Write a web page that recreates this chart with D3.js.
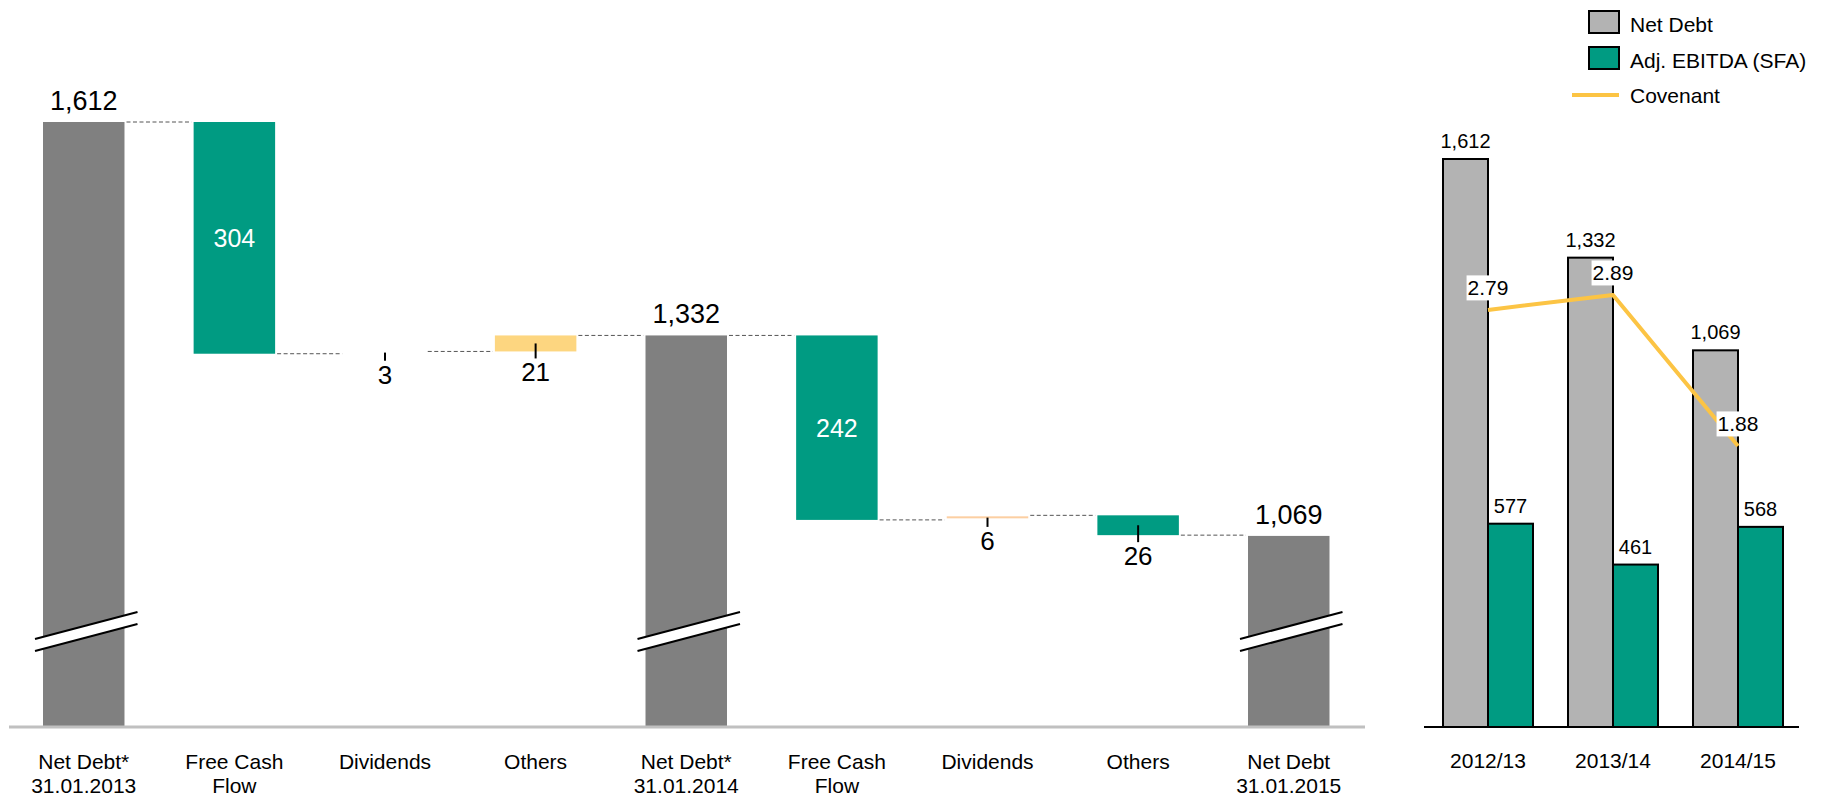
<!DOCTYPE html>
<html>
<head>
<meta charset="utf-8">
<script src="https://cdn.jsdelivr.net/npm/d3@7"></script>
<style>
  html, body { margin: 0; padding: 0; background: #fff; }
  svg { display: block; font-family: "Liberation Sans", Arial, Helvetica, sans-serif; }
</style>
</head>
<body>
<svg id="chart" width="1825" height="798"></svg>
<script>
// ---------- DATA ----------
const wfLine1 = ["Net Debt*", "Free Cash", "Dividends", "Others", "Net Debt*", "Free Cash", "Dividends", "Others", "Net Debt"];
const wfLine2 = ["31.01.2013", "Flow", "", "", "31.01.2014", "Flow", "", "", "31.01.2015"];
const wfValues = [1612, -304, 3, 21, 1332, -242, 6, -26, 1069];
const wfIsTotal = [true, false, false, false, true, false, false, false, true];
const wfKind = ["total", "cash", "dividend1", "other", "total", "cash", "dividend2", "other", "total"];

const years = ["2012/13", "2013/14", "2014/15"];
const netDebt = [1612, 1332, 1069];
const ebitda = [577, 461, 568];
const covenant = [2.79, 2.89, 1.88];
const legendLabels = ["Net Debt", "Adj. EBITDA (SFA)", "Covenant"];

// ---------- STYLE ----------
const C = {
  total: "#808080", teal: "#009B82", yellow: "#FDD680", peach: "#FCCFA2",
  lightGray: "#B3B3B3", cov: "#FCC444", axisL: "#C0C0C0"
};

const svg = d3.select("#chart");
const fmt = d3.format(",");

// ---------- WATERFALL ----------
const xW = d3.scaleBand().domain(d3.range(wfValues.length)).range([43, 1329.5]).paddingInner(0.459).paddingOuter(0);
const yW = d3.scaleLinear().domain([817, 1612]).range([728, 122]);
const axisY = 727;

// compute running levels
let level = 0;
const bars = wfValues.map((v, i) => {
  let start, end;
  if (wfIsTotal[i]) { start = null; end = v; level = v; }
  else { start = level; end = level + v; level = end; }
  return { i, v, start, end, kind: wfKind[i], total: wfIsTotal[i] };
});

const gW = svg.append("g");

// connectors
bars.forEach((b, i) => {
  if (i === bars.length - 1) return;
  const lv = b.end;
  gW.append("line")
    .attr("x1", xW(i) + xW.bandwidth() + 2)
    .attr("x2", xW(i + 1) - 2)
    .attr("y1", yW(lv)).attr("y2", yW(lv))
    .attr("stroke", "#555").attr("stroke-width", 1).attr("stroke-dasharray", "4,2.5");
});

// bars
bars.forEach(b => {
  const x = xW(b.i), w = xW.bandwidth();
  if (b.total) {
    gW.append("rect").attr("x", x).attr("y", yW(b.end)).attr("width", w)
      .attr("height", axisY - yW(b.end)).attr("fill", C.total);
  } else {
    const top = yW(Math.max(b.start, b.end)), bot = yW(Math.min(b.start, b.end));
    if (b.kind === "cash") {
      gW.append("rect").attr("x", x).attr("y", top).attr("width", w).attr("height", bot - top).attr("fill", C.teal);
    } else if (b.kind === "other") {
      gW.append("rect").attr("x", x).attr("y", top).attr("width", w).attr("height", bot - top)
        .attr("fill", b.v < 0 ? C.teal : C.yellow);
    } else if (b.kind === "dividend2") {
      gW.append("rect").attr("x", x).attr("y", top + 1).attr("width", w).attr("height", 2).attr("fill", C.peach);
    }
  }
});

// break marks on totals
bars.filter(b => b.total).forEach(b => {
  const xl = xW(b.i) - 8, xr = xW(b.i) + xW.bandwidth() + 13;
  const yl = 639, yr = 612, gap = 12;
  gW.append("polygon")
    .attr("points", `${xl},${yl} ${xr},${yr} ${xr},${yr + gap} ${xl},${yl + gap}`)
    .attr("fill", "#fff");
  [0, gap].forEach(o => {
    gW.append("line").attr("x1", xl).attr("y1", yl + o).attr("x2", xr).attr("y2", yr + o)
      .attr("stroke", "#000").attr("stroke-width", 2);
  });
});

// axis line (left)
gW.append("line").attr("x1", 9).attr("x2", 1365).attr("y1", axisY).attr("y2", axisY)
  .attr("stroke", C.axisL).attr("stroke-width", 3);

// value labels
bars.forEach(b => {
  const cx = xW(b.i) + xW.bandwidth() / 2;
  if (b.total) {
    gW.append("text").attr("x", cx).attr("y", yW(b.end) - 12).attr("text-anchor", "middle")
      .attr("font-size", 27).attr("fill", "#000").text(fmt(b.v));
  } else {
    const top = yW(Math.max(b.start, b.end)), bot = yW(Math.min(b.start, b.end));
    if (bot - top > 40) {
      gW.append("text").attr("x", cx).attr("y", (top + bot) / 2 + 9).attr("text-anchor", "middle")
        .attr("font-size", 25).attr("fill", "#fff").text(fmt(Math.abs(b.v)));
    } else {
      const mid = (top + bot) / 2;
      gW.append("line").attr("x1", cx).attr("x2", cx).attr("y1", mid).attr("y2", bot + 7)
        .attr("stroke", "#000").attr("stroke-width", 2);
      gW.append("text").attr("x", cx).attr("y", bot + 30).attr("text-anchor", "middle")
        .attr("font-size", 26).attr("fill", "#000").text(fmt(Math.abs(b.v)));
    }
  }
});

// category labels
wfLine1.forEach((t, i) => {
  const cx = xW(i) + xW.bandwidth() / 2;
  const tx = gW.append("text").attr("text-anchor", "middle").attr("font-size", 21).attr("fill", "#000");
  tx.append("tspan").attr("x", cx).attr("y", 769).text(t);
  if (wfLine2[i]) tx.append("tspan").attr("x", cx).attr("y", 793).text(wfLine2[i]);
});

// ---------- RIGHT CHART ----------
const gR = svg.append("g");
const x0 = d3.scaleBand().domain(years).range([1443, 1783]).paddingInner(0.28).paddingOuter(0);
const x1 = d3.scaleBand().domain(["nd", "eb"]).range([0, x0.bandwidth()]);
const yR = d3.scaleLinear().domain([0, 1612]).range([axisY, 159]);
const yC = d3.scaleLinear().domain([0, 4]).range([axisY, axisY - 4 * 149.5]);

years.forEach((yr, i) => {
  const gx = x0(yr);
  [["nd", netDebt[i], C.lightGray], ["eb", ebitda[i], C.teal]].forEach(([k, v, f]) => {
    gR.append("rect").attr("x", gx + x1(k)).attr("y", yR(v)).attr("width", x1.bandwidth())
      .attr("height", axisY - yR(v)).attr("fill", f).attr("stroke", "#000").attr("stroke-width", 2);
  });
});
years.forEach((yr, i) => {
  const gx = x0(yr);
  [["nd", netDebt[i]], ["eb", ebitda[i]]].forEach(([k, v]) => {
    gR.append("text").attr("x", gx + x1(k) + x1.bandwidth() / 2).attr("y", yR(v) - 11)
      .attr("text-anchor", "middle").attr("font-size", 20).attr("fill", "#000").text(fmt(v));
  });
});

// axis right
gR.append("line").attr("x1", 1424).attr("x2", 1799).attr("y1", axisY).attr("y2", axisY)
  .attr("stroke", "#000").attr("stroke-width", 2);

// year labels
years.forEach(yr => {
  gR.append("text").attr("x", x0(yr) + x0.bandwidth() / 2).attr("y", 768)
    .attr("text-anchor", "middle").attr("font-size", 21).attr("fill", "#000").text(yr);
});

// covenant line
const covPts = years.map((yr, i) => [x0(yr) + x0.bandwidth() / 2, yC(covenant[i])]);
gR.append("path").attr("d", d3.line()(covPts)).attr("fill", "none")
  .attr("stroke", C.cov).attr("stroke-width", 4).attr("stroke-linejoin", "round");
covPts.forEach((p, i) => {
  const t = covenant[i].toFixed(2);
  const cy = p[1] - 22;
  const tx = gR.append("text").attr("x", p[0]).attr("y", cy + 7.5).attr("text-anchor", "middle")
    .attr("font-size", 21).attr("fill", "#000").text(t);
  const bb = tx.node().getBBox();
  gR.insert("rect", function () { return tx.node(); })
    .attr("x", bb.x - 1).attr("y", cy - 12.5).attr("width", bb.width + 2).attr("height", 25).attr("fill", "#fff");
});

// legend
const gL = svg.append("g");
gL.append("rect").attr("x", 1589).attr("y", 11).attr("width", 30).attr("height", 22)
  .attr("fill", C.lightGray).attr("stroke", "#000").attr("stroke-width", 2);
gL.append("rect").attr("x", 1589).attr("y", 47).attr("width", 30).attr("height", 22)
  .attr("fill", C.teal).attr("stroke", "#000").attr("stroke-width", 2);
gL.append("line").attr("x1", 1572).attr("x2", 1619).attr("y1", 95).attr("y2", 95)
  .attr("stroke", C.cov).attr("stroke-width", 4);
[31.5, 67.5, 103].forEach((y, i) => {
  gL.append("text").attr("x", 1630).attr("y", y).attr("font-size", 21).attr("fill", "#000").text(legendLabels[i]);
});
</script>
</body>
</html>
